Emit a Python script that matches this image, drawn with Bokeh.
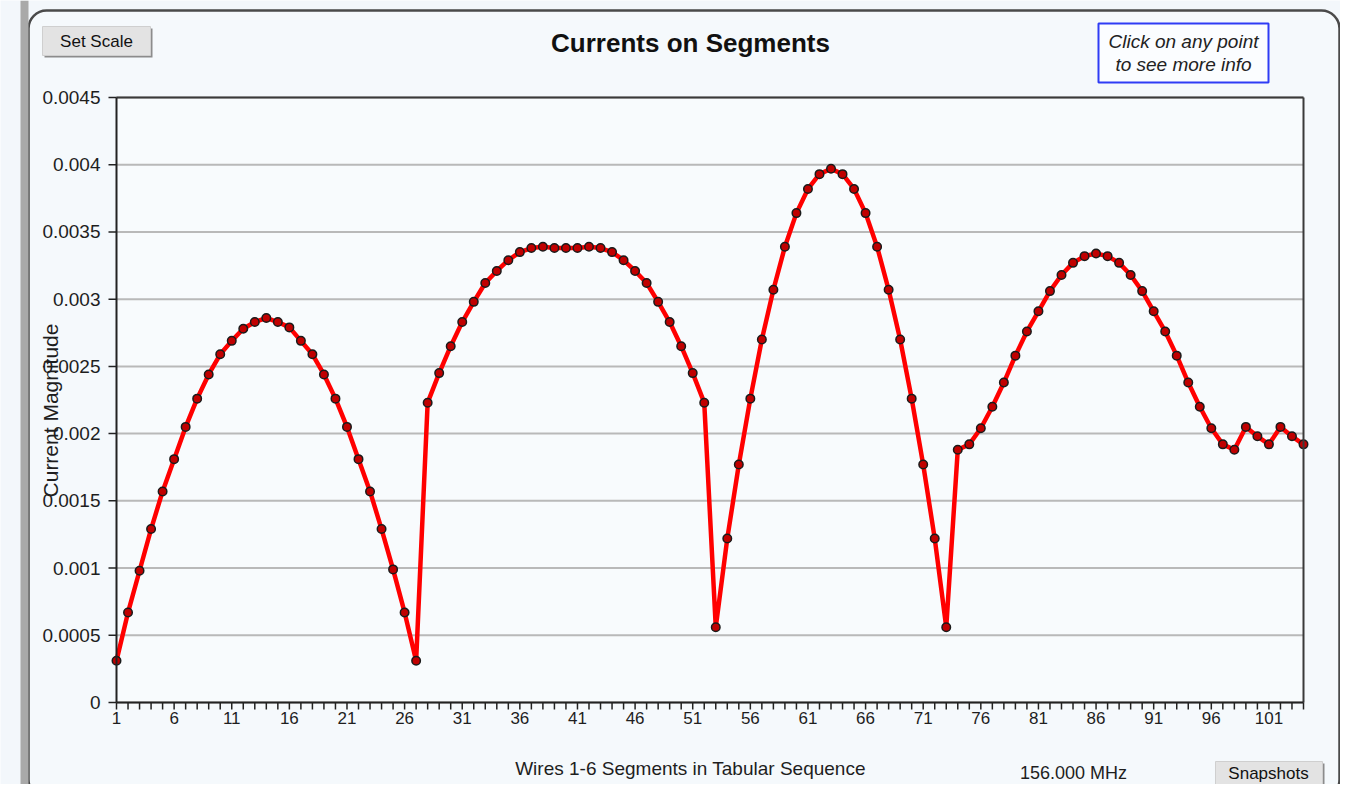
from bokeh.plotting import figure
from bokeh.models import Range1d, BoxAnnotation
from bokeh.core.properties import value
from bokeh.embed import file_html
from bokeh.resources import INLINE
import math

# ---- data ----
segments = list(range(1, 105))
current = [
    0.00031, 0.00067, 0.00098, 0.00129, 0.00157, 0.00181, 0.00205, 0.00226, 0.00244, 0.00259,
    0.00269, 0.00278, 0.00283, 0.00286, 0.00283, 0.00279, 0.00269, 0.00259, 0.00244, 0.00226,
    0.00205, 0.00181, 0.00157, 0.00129, 0.00099, 0.00067, 0.00031,
    0.00223, 0.00245, 0.00265, 0.00283, 0.00298, 0.00312, 0.00321, 0.00329, 0.00335, 0.00338,
    0.00339, 0.00338, 0.00338, 0.00338, 0.00339, 0.00338, 0.00335, 0.00329, 0.00321, 0.00312,
    0.00298, 0.00283, 0.00265, 0.00245, 0.00223,
    0.00056, 0.00122, 0.00177, 0.00226, 0.00270, 0.00307, 0.00339, 0.00364, 0.00382, 0.00393,
    0.00397, 0.00393, 0.00382, 0.00364, 0.00339, 0.00307, 0.00270, 0.00226, 0.00177, 0.00122,
    0.00056,
    0.00188, 0.00192, 0.00204, 0.00220, 0.00238, 0.00258, 0.00276, 0.00291, 0.00306, 0.00318,
    0.00327, 0.00332, 0.00334, 0.00332, 0.00327, 0.00318, 0.00306, 0.00291, 0.00276, 0.00258,
    0.00238, 0.00220, 0.00204, 0.00192, 0.00188, 0.00205, 0.00198, 0.00192, 0.00205, 0.00198,
    0.00192,
]
x_major_ticks = list(range(1, 102, 5))
x_tick_labels = [str(t) for t in x_major_ticks]
y_ticks = [0, 0.0005, 0.001, 0.0015, 0.002, 0.0025, 0.003, 0.0035, 0.004, 0.0045]
y_tick_labels = ["0", "0.0005", "0.001", "0.0015", "0.002", "0.0025", "0.003", "0.0035", "0.004", "0.0045"]
title_text = "Currents on Segments"
x_label = "Wires 1-6 Segments in Tabular Sequence"
y_label = "Current Magnitude"
freq_text = "156.000 MHz"
info_lines = ["Click on any point", "to see more info"]
button_texts = ["Set Scale", "Snapshots"]

# data extent of the plotting area
X0, X1 = 1, 104
Y0, Y1 = 0, 0.0045

# ---- layout (pixels of the page) ----
W, H = 1340, 784
FL, FR, FT, FB = 116, 1303, 97, 702          # plotting-area box
kx = (FR - FL) / (X1 - X0)
ky = (FB - FT) / (Y1 - Y0)

def fx(px):
    return X0 + (px - FL) / kx

def fy(py):
    return Y0 + (FB - py) / ky

p = figure(width=W, height=H, output_backend="svg", toolbar_location=None,
           x_range=Range1d(fx(0), fx(W)), y_range=Range1d(fy(H), fy(0)),
           x_axis_location=None, y_axis_location=None,
           min_border=0, min_border_left=0, min_border_right=0, min_border_top=0, min_border_bottom=0)
p.outline_line_color = None
for g in p.grid:
    g.visible = False
p.border_fill_color = "#f3f7fb"
p.background_fill_color = "#f3f7fb"

FONT = value("Liberation Sans")
INK = "#1e1e1e"

# ---- outer rounded panel ----
p.quad(left=fx(20), right=fx(28), top=fy(0), bottom=fy(H), fill_color="#a9a9a9", line_color=None)
p.add_layout(BoxAnnotation(left=fx(28), right=fx(1339), top=fy(10), bottom=fy(797),
                           fill_color="#f5f9fc", fill_alpha=1, line_color="#4a4a4a", line_alpha=1,
                           line_width=2.5, border_radius=18, level="underlay"))

# plotting-area background
p.quad(left=X0, right=X1, top=Y1, bottom=Y0, fill_color="#f8fbfd", line_color=None)

# ---- horizontal grid lines ----
p.segment(x0=[X0] * len(y_ticks), x1=[X1] * len(y_ticks), y0=y_ticks, y1=y_ticks,
          line_color="#b9b9b9", line_width=2)

# ---- data ----
p.line(segments, current, line_color="#ff0000", line_width=4.5)
p.scatter(segments, current, size=8.5, fill_color="#c00000", line_color="#1a1a1a", line_width=1.5)

# ---- frame / axes ----
p.segment(x0=[X0, X1], x1=[X1, X1], y0=[Y1, Y0], y1=[Y1, Y1], line_color="#3a3a3a", line_width=2)
p.segment(x0=[X0, X0], x1=[X1, X0], y0=[Y0, Y0], y1=[Y0, Y1], line_color="#222222", line_width=2)
# y ticks and labels
p.segment(x0=[fx(108)] * len(y_ticks), x1=[X0] * len(y_ticks), y0=y_ticks, y1=y_ticks,
          line_color="#222222", line_width=1.5)
p.text(x=[fx(100)] * len(y_ticks), y=y_ticks, text=y_tick_labels, text_align="right",
       text_baseline="middle", text_font=FONT, text_font_size="19px", text_color=INK)
# x ticks (every segment) and labels
p.segment(x0=segments, x1=segments, y0=[Y0] * len(segments), y1=[fy(709)] * len(segments),
          line_color="#222222", line_width=1.5)
p.text(x=x_major_ticks, y=[fy(711)] * len(x_major_ticks), text=x_tick_labels, text_align="center",
       text_baseline="top", text_font=FONT, text_font_size="17px", text_color=INK)

# ---- title and axis titles ----
p.text(x=[fx(690)], y=[fy(42)], text=[title_text], text_align="center", text_baseline="middle",
       text_font=FONT, text_font_style="bold", text_font_size="26px", text_color="#111111")
p.text(x=[fx(690)], y=[fy(768)], text=[x_label], text_align="center", text_baseline="middle",
       text_font=FONT, text_font_size="19px", text_color=INK)
p.text(x=[fx(50)], y=[fy(410)], text=[y_label], text_align="center", text_baseline="middle",
       angle=math.pi / 2, text_font=FONT, text_font_size="21px", text_color=INK)
p.text(x=[fx(1073)], y=[fy(772)], text=[freq_text], text_align="center", text_baseline="middle",
       text_font=FONT, text_font_size="18px", text_color=INK)

# ---- buttons ----
p.quad(left=[fx(44), fx(1217)], right=[fx(152), fx(1324)], top=[fy(28), fy(763)],
       bottom=[fy(57), fy(786)], fill_color="#8c8c8c", line_color=None)
p.quad(left=[fx(42), fx(1215)], right=[fx(150), fx(1322)], top=[fy(26), fy(761)],
       bottom=[fy(55), fy(784)], fill_color="#e3e3e3", line_color="#cfcfcf", line_width=1)
p.text(x=[fx(96), fx(1268)], y=[fy(41), fy(773)], text=button_texts, text_align="center",
       text_baseline="middle", text_font=FONT, text_font_size="17px", text_color="#111111")

# ---- info box ----
p.quad(left=[fx(1098)], right=[fx(1268)], top=[fy(23)], bottom=[fy(82)],
       fill_color="#fbfdff", line_color="#2f3cf5", line_width=2)
p.text(x=[fx(1183), fx(1183)], y=[fy(41), fy(64)], text=info_lines, text_align="center",
       text_baseline="middle", text_font=FONT, text_font_style="italic", text_font_size="19px",
       text_color="#222222")

open("out.html", "w").write(file_html(p, INLINE))
